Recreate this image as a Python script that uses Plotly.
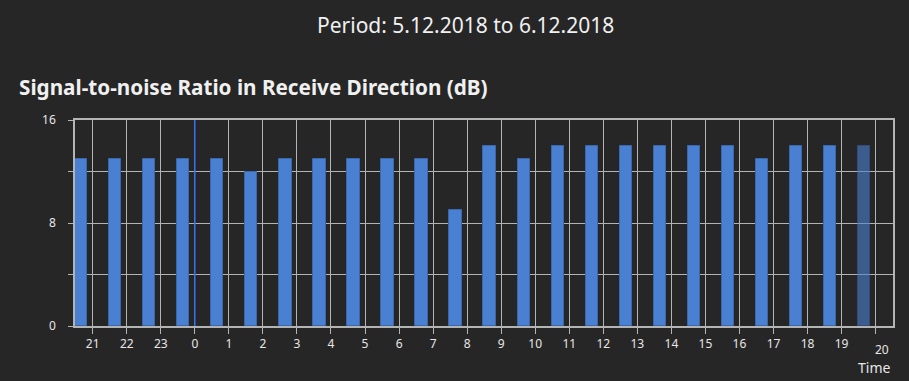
import plotly.graph_objects as go

hours = ["21", "22", "23", "0", "1", "2", "3", "4", "5", "6", "7", "8",
         "9", "10", "11", "12", "13", "14", "15", "16", "17", "18", "19", "20"]
snr_db = [13, 13, 13, 13, 13, 12, 13, 13, 13, 13, 13, 9,
          14, 13, 14, 14, 14, 14, 14, 14, 13, 14, 14, 14]
y_tick_vals = [0, 4, 8, 12, 16]
y_tick_text = ["0", "", "8", "", "16"]

title_text = "Period: 5.12.2018 to 6.12.2018"
chart_title = "Signal-to-noise Ratio in Receive Direction (dB)"
x_title = "Time"

FONT = "Noto Sans"
BG = "#262626"
GRID = "#b4b4b4"
BAR = "#4a80d2"

# page body has an 8px margin; figure sized so plot lands where the reference has it
W, H = 901, 373
ML, MR, MT, MB = 67, 16, 112, 55
plot_w = W - ML - MR
plot_h = H - MT - MB

idx = list(range(len(hours)))
n = len(hours)
opac = [1.0] * (n - 1) + [0.6]

fig = go.Figure()
fig.add_trace(go.Bar(
    x=idx, y=snr_db,
    width=0.36, offset=-0.52,
    marker=dict(color=BAR, opacity=opac, line=dict(color="#3b68ad", width=1)),
    hoverinfo="y",
))

day_idx = hours.index("0")
fig.add_shape(type="line", xref="x", yref="paper", x0=day_idx, x1=day_idx,
              y0=0, y1=1, line=dict(color="#2f6ff0", width=1.5), layer="above")


def px_x(x):
    return (x - 8 - ML) / plot_w


def px_y(y):
    return 1 - (y - 8 - MT) / plot_h


fig.update_layout(
    width=W, height=H,
    paper_bgcolor=BG, plot_bgcolor=BG,
    margin=dict(l=ML, r=MR, t=MT, b=MB),
    font=dict(family=FONT, color="#e6e6e6", size=12),
    showlegend=False,
    bargap=0,
    annotations=[
        dict(text=title_text, x=px_x(465), xref="paper", y=px_y(25), yref="paper",
             xanchor="center", yanchor="middle", showarrow=False,
             font=dict(size=21, color="#f0f0f0", family=FONT)),
        dict(text="<b>" + chart_title + "</b>", x=px_x(17), y=px_y(87), xref="paper", yref="paper",
             xanchor="left", yanchor="middle", showarrow=False,
             font=dict(size=20.7, color="#f0f0f0", family=FONT)),
        dict(text=hours[-1], x=px_x(891), xref="paper", y=px_y(349), yref="paper",
             xanchor="right", yanchor="middle", showarrow=False,
             font=dict(size=12, color="#e6e6e6", family=FONT)),
        dict(text=x_title, x=px_x(892), xref="paper", y=px_y(367), yref="paper",
             xanchor="right", yanchor="middle", showarrow=False,
             font=dict(size=14, color="#e6e6e6", family=FONT)),
    ],
)

fig.update_xaxes(
    range=[-0.52, n - 0.49],
    tickmode="array", tickvals=idx, ticktext=hours[:-1] + [""],
    showgrid=True, gridcolor=GRID, gridwidth=1,
    ticks="outside", ticklen=6, tickcolor=GRID, tickwidth=1,
    showline=True, linecolor=GRID, linewidth=1.5, mirror=True,
    zeroline=False, tickfont=dict(size=12, color="#e6e6e6"),
)
fig.update_yaxes(
    range=[0, 16],
    tickmode="array", tickvals=y_tick_vals, ticktext=y_tick_text,
    showgrid=True, gridcolor=GRID, gridwidth=1,
    ticks="outside", ticklen=5, tickcolor=GRID, tickwidth=1,
    ticklabelstandoff=10,
    showline=True, linecolor=GRID, linewidth=1.5, mirror=True,
    zeroline=False, tickfont=dict(size=12, color="#e6e6e6"),
)

fig.write_html("out.html", post_script="document.body.style.background='#262626';")
